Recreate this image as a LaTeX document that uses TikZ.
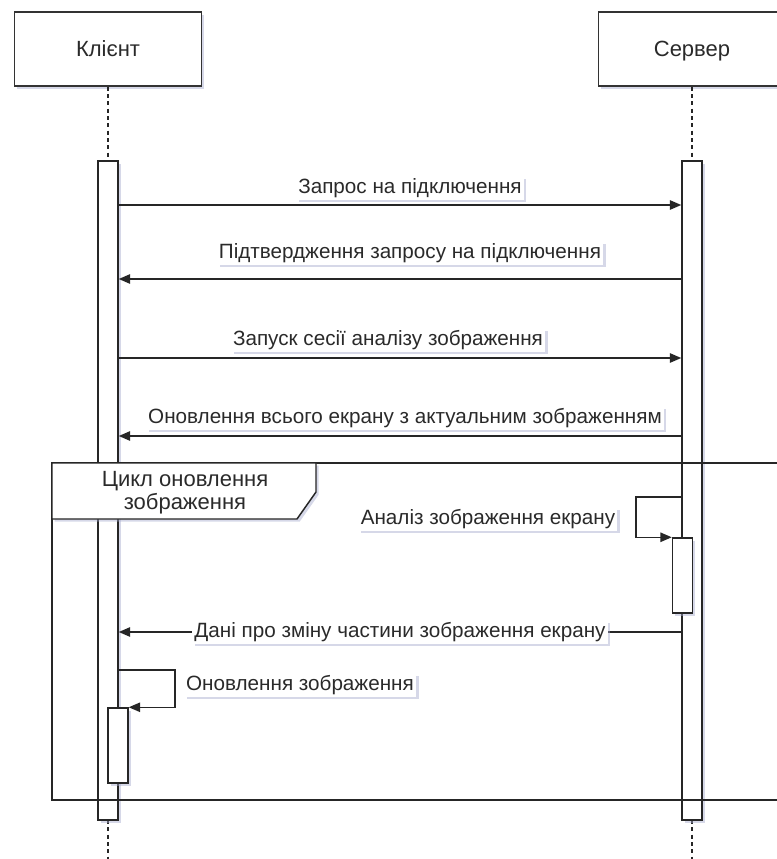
\documentclass[tikz,border=0pt]{standalone}
\usepackage{fontspec}
\setmainfont{Liberation Sans}
\usetikzlibrary{arrows.meta,shadows}
\definecolor{ink}{HTML}{2A2A2A}
\definecolor{shade}{RGB}{165,170,205}
\tikzset{
  softshadow/.style={drop shadow={shadow xshift=2pt,shadow yshift=-2pt,fill=shade,opacity=0.45}},
  actorbox/.style={draw=black!80, line width=1.1pt, fill=white, softshadow,
    minimum width=140.25pt, minimum height=55.5pt, inner sep=0pt,
    font=\fontsize{16.5}{19}\selectfont, text=ink, text depth=-1.5pt},
  bar/.style={draw=black!85, line width=1.1pt, fill=white, softshadow,
    minimum width=15pt, inner sep=0pt},
  lifeline/.style={draw=black!85, line width=1.1pt, dash pattern=on 3pt off 2.5pt},
  msg/.style={draw=black!85, line width=1.1pt, -{Triangle[length=8.5pt,width=7pt]}},
  msglabel/.style={fill=white, softshadow, text=ink, inner sep=1.5pt,
    font=\fontsize{15.5}{18}\selectfont},
  frameline/.style={draw=black!85, line width=1.1pt}
}
\begin{document}
\begin{tikzpicture}[x=0.75pt,y=-0.75pt]
\useasboundingbox (0,0) rectangle (777,859);
\clip (0,0) rectangle (777,859);
\fill[white] (0,0) rectangle (777,859);

% participants and lifelines
\node[actorbox] (client) at (108,49) {Клієнт};
\node[actorbox] (server) at (692,49) {Сервер};
\coordinate (cend) at (108,859);
\coordinate (send) at (692,859);
\draw[lifeline] (client.south) -- (cend);
\draw[lifeline] (server.south) -- (send);

% activation bars
\node[bar, minimum height=494.25pt] (cbar) at (108,490.5) {};
\node[bar, minimum height=494.25pt] (sbar) at (692,490.5) {};
\node[bar, minimum height=56.25pt] (sinner) at (682.5,575.5) {};
\node[bar, minimum height=56.25pt] (cinner) at (118,745.5) {};

% loop frame
\draw[frameline] (52,463) rectangle (800,800);
\draw[frameline, fill=white, softshadow]
  (52,463) -- (316,463) -- (316,492) -- (297,519) -- (52,519) -- cycle;
\node[text=ink, align=center, font=\fontsize{16.5}{17.5}\selectfont] (looplabel) at (185,493)
  {Цикл оновлення\\зображення};

% message levels
\coordinate (m1) at (0,205);
\coordinate (m2) at (0,279);
\coordinate (m3) at (0,358);
\coordinate (m4) at (0,436);
\coordinate (m5) at (0,632);
\coordinate (sloop) at (636,497);
\coordinate (cloop) at (175,670);

% messages
\draw[msg] (cbar.east |- m1) -- (sbar.west |- m1);
\node[msglabel] (l1) at (410,188) {Запрос на підключення};

\draw[msg] (sbar.west |- m2) -- (cbar.east |- m2);
\node[msglabel] (l2) at (410,253) {Підтвердження запросу на підключення};

\draw[msg] (cbar.east |- m3) -- (sbar.west |- m3);
\node[msglabel] (l3) at (388,340) {Запуск сесії аналізу зображення};

\draw[msg] (sbar.west |- m4) -- (cbar.east |- m4);
\node[msglabel] (l4) at (405,418) {Оновлення всього екрану з актуальним зображенням};

\draw[msg] (sbar.west |- sloop) -- (sloop) |- (sinner.north west);
\node[msglabel] (l5) at (488,519) {Аналіз зображення екрану};

\draw[msg] (sbar.west |- m5) -- (cbar.east |- m5);
\node[msglabel] (l6) at (400,632) {Дані про зміну частини зображення екрану};

\draw[msg] (cbar.east |- cloop) -- (cloop) |- (cinner.north east);
\node[msglabel] (l7) at (300,685) {Оновлення зображення};
\end{tikzpicture}
\end{document}
